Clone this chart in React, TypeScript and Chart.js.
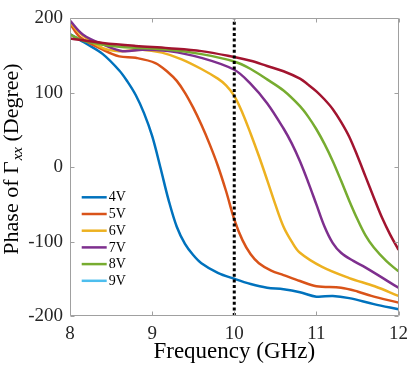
import React, { useEffect, useRef } from 'react';
import { Chart, registerables } from 'chart.js';

Chart.register(...registerables);

// ---- data ----
const FREQ_4V = [8, 8.2, 8.4, 8.6, 8.7, 8.8, 8.9, 9.0, 9.1, 9.2, 9.3, 9.4, 9.5, 9.6, 9.8, 10, 10.2, 10.4, 10.6, 10.8, 11.0, 11.2, 11.4, 11.7, 12];
const PHASE_4V = [179, 166, 152, 130, 115, 97, 73, 42, 0, -44, -80, -103, -118, -129, -142, -150, -157, -162, -164, -168, -174, -173, -176, -184, -191];

const FREQ_5V = [8, 8.12, 8.4, 8.6, 8.8, 9.04, 9.2, 9.3, 9.4, 9.5, 9.6, 9.7, 9.8, 9.9, 10, 10.1, 10.2, 10.3, 10.45, 10.6, 10.8, 11.0, 11.3, 11.5, 11.67, 12];
const PHASE_5V = [193, 175, 158, 149, 147, 140, 127, 116, 100, 80, 57, 31, 2, -32, -70, -98, -117, -129, -139, -145, -153, -160, -162, -167, -173, -182];

const FREQ_6V = [8, 8.12, 8.4, 8.6, 8.88, 9.12, 9.36, 9.6, 9.8, 9.9, 10, 10.1, 10.2, 10.3, 10.4, 10.5, 10.6, 10.7, 10.8, 11.07, 11.4, 11.71, 12];
const PHASE_6V = [195, 180, 160, 156, 158, 154, 145, 132, 119, 110, 96, 73, 45, 15, -17, -50, -80, -100, -115, -134, -149, -160, -173];

const FREQ_7V = [8, 8.16, 8.4, 8.64, 8.88, 9.2, 9.6, 10, 10.2, 10.4, 10.6, 10.7, 10.8, 10.9, 11.0, 11.1, 11.2, 11.3, 11.45, 11.6, 12];
const PHASE_7V = [197, 178, 165, 156, 158, 156, 147, 131, 112, 86, 52, 32, 8, -20, -50, -80, -102, -115, -126, -135, -162];

const FREQ_8V = [8, 8.2, 8.6, 9.2, 9.6, 10, 10.2, 10.4, 10.6, 10.8, 10.9, 11.0, 11.1, 11.2, 11.3, 11.4, 11.5, 11.6, 11.7, 11.85, 12];
const PHASE_8V = [178, 169, 162, 158, 152, 142, 132, 118, 103, 82, 68, 51, 31, 8, -18, -45, -70, -92, -108, -126, -140];

const FREQ_9V: number[] = [];
const PHASE_9V: number[] = [];

const FREQ_EXTRA = [8, 8.4, 8.8, 9.2, 9.6, 10, 10.2, 10.4, 10.6, 10.8, 10.9, 11.0, 11.1, 11.2, 11.3, 11.4, 11.5, 11.6, 11.7, 11.8, 11.9, 12];
const PHASE_EXTRA = [173, 167, 163, 160, 156, 148, 143, 136, 129, 119, 111, 102, 91, 78, 61, 41, 15, -13, -41, -68, -91, -111];

const LEGEND_LABELS = ['4V', '5V', '6V', '7V', '8V', '9V'];
const X_TICKS = [8, 9, 10, 11, 12];
const Y_TICKS = [-200, -100, 0, 100, 200];
const MARKER_FREQ = 10;

const COLORS = ['#0072BD', '#D95319', '#EDB120', '#7E2F8E', '#77AC30', '#4DBEEE'];
const EXTRA_COLOR = '#A2142F';

const SERIF = '"Liberation Serif", "Times New Roman", serif';

const pts = (xs: number[], ys: number[]) => xs.map((x, i) => ({ x, y: ys[i] }));

const framePlugin = {
  id: 'frame',
  afterDatasetsDraw(chart: any) {
    const { ctx, chartArea: a, scales } = chart;
    const xs = scales.x;
    const ys = scales.y;
    ctx.save();
    // box
    ctx.strokeStyle = '#a0a0a0';
    ctx.lineWidth = 1;
    const L = Math.round(a.left) + 0.5;
    const R = Math.round(a.right) - 0.5;
    const T = Math.round(a.top) + 0.5;
    const B = Math.round(a.bottom) - 0.5;
    ctx.beginPath();
    ctx.rect(L, T, R - L, B - T);
    ctx.stroke();
    // inward ticks
    const tl = 4;
    ctx.beginPath();
    X_TICKS.forEach((t) => {
      const px = Math.round(xs.getPixelForValue(t)) + 0.5;
      ctx.moveTo(px, B); ctx.lineTo(px, B - tl);
      ctx.moveTo(px, T); ctx.lineTo(px, T + tl);
    });
    Y_TICKS.forEach((t) => {
      const py = Math.round(ys.getPixelForValue(t)) + 0.5;
      ctx.moveTo(L, py); ctx.lineTo(L + tl, py);
      ctx.moveTo(R, py); ctx.lineTo(R - tl, py);
    });
    ctx.stroke();

    // legend
    const legendX0 = a.left + 11.7;
    const legendX1 = a.left + 36.7;
    const legendY0 = 197.3;
    const step = 16.7;
    ctx.font = `14px ${SERIF}`;
    ctx.textBaseline = 'middle';
    ctx.textAlign = 'left';
    LEGEND_LABELS.forEach((lab, i) => {
      const y = legendY0 + i * step;
      ctx.strokeStyle = COLORS[i];
      ctx.lineWidth = 2.5;
      ctx.beginPath();
      ctx.moveTo(legendX0, y);
      ctx.lineTo(legendX1, y);
      ctx.stroke();
      ctx.fillStyle = '#000';
      ctx.fillText(lab, legendX1 + 2, y + 0.5);
    });

    // x title
    ctx.fillStyle = '#000';
    ctx.font = `23px ${SERIF}`;
    ctx.textAlign = 'center';
    ctx.textBaseline = 'alphabetic';
    ctx.fillText('Frequency (GHz)', (a.left + a.right) / 2, 358);

    // y title (rotated, with italic subscript)
    const part1 = 'Phase of \u0393';
    const sub = 'xx';
    const part2 = ' (Degree)';
    const mainFont = `22px ${SERIF}`;
    const subFont = `italic 15px ${SERIF}`;
    ctx.font = mainFont;
    const w1 = ctx.measureText(part1).width;
    const w3 = ctx.measureText(part2).width;
    ctx.font = subFont;
    const w2 = ctx.measureText(sub).width;
    const total = w1 + w2 + 1 + w3;
    ctx.translate(18, 159);
    ctx.rotate(-Math.PI / 2);
    ctx.textAlign = 'left';
    let x = -total / 2;
    ctx.font = mainFont;
    ctx.fillText(part1, x, 0);
    x += w1;
    ctx.font = subFont;
    ctx.fillText(sub, x + 1, 4);
    x += w2 + 1;
    ctx.font = mainFont;
    ctx.fillText(part2, x, 0);
    ctx.restore();
  },
};

export default function App() {
  const ref = useRef<HTMLCanvasElement | null>(null);

  useEffect(() => {
    document.body.style.margin = '0';
    const canvas = ref.current;
    if (!canvas) return;
    const series = [
      { label: LEGEND_LABELS[0], f: FREQ_4V, p: PHASE_4V, color: COLORS[0], order: 7 },
      { label: LEGEND_LABELS[1], f: FREQ_5V, p: PHASE_5V, color: COLORS[1], order: 6 },
      { label: LEGEND_LABELS[2], f: FREQ_6V, p: PHASE_6V, color: COLORS[2], order: 5 },
      { label: LEGEND_LABELS[3], f: FREQ_7V, p: PHASE_7V, color: COLORS[3], order: 4 },
      { label: LEGEND_LABELS[4], f: FREQ_8V, p: PHASE_8V, color: COLORS[4], order: 3 },
      { label: LEGEND_LABELS[5], f: FREQ_9V, p: PHASE_9V, color: COLORS[5], order: 2 },
      { label: '', f: FREQ_EXTRA, p: PHASE_EXTRA, color: EXTRA_COLOR, order: 1 },
    ];
    const datasets: any[] = series.map((s) => ({
      label: s.label,
      data: pts(s.f, s.p),
      borderColor: s.color,
      backgroundColor: s.color,
      borderWidth: 2.5,
      pointRadius: 0,
      tension: 0.35,
      fill: false,
      order: s.order,
    }));
    datasets.push({
      label: 'marker',
      data: [
        { x: MARKER_FREQ, y: Y_TICKS[0] },
        { x: MARKER_FREQ, y: Y_TICKS[Y_TICKS.length - 1] },
      ],
      borderColor: '#000',
      borderWidth: 3,
      borderDash: [3, 2.6],
      pointRadius: 0,
      tension: 0,
      fill: false,
      order: 0,
    });

    const chart = new Chart(canvas, {
      type: 'line',
      data: { datasets },
      plugins: [framePlugin],
      options: {
        animation: false,
        responsive: false,
        devicePixelRatio: 1,
        layout: { padding: { top: 12, right: 12, left: 0, bottom: 0 } },
        plugins: { legend: { display: false }, tooltip: { enabled: false } },
        scales: {
          x: {
            type: 'linear',
            min: 8,
            max: 12,
            afterFit: (s: any) => { s.height = 55; },
            afterBuildTicks: (s: any) => { s.ticks = X_TICKS.map((v) => ({ value: v })); },
            grid: { display: false, drawTicks: false },
            border: { display: false },
            ticks: {
              padding: 7,
              color: '#262626',
              font: { family: SERIF, size: 19 },
              maxRotation: 0,
            },
          },
          y: {
            type: 'linear',
            min: -200,
            max: 200,
            afterFit: (s: any) => { s.width = 70; },
            afterBuildTicks: (s: any) => { s.ticks = Y_TICKS.map((v) => ({ value: v })); },
            grid: { display: false, drawTicks: false },
            border: { display: false },
            ticks: {
              padding: 7,
              color: '#262626',
              font: { family: SERIF, size: 19 },
            },
          },
        },
      },
    } as any);
    return () => chart.destroy();
  }, []);

  return (
    <div style={{ position: 'absolute', left: 0, top: 0, width: 415, height: 371 }}>
      <canvas ref={ref} width={415} height={371} style={{ display: 'block' }} />
    </div>
  );
}
